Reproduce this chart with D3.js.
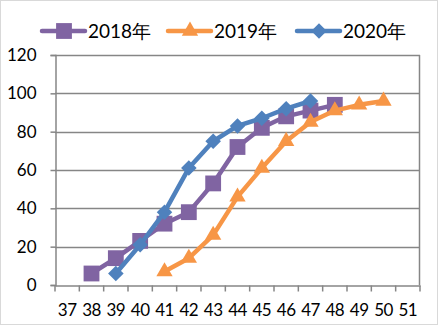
<!DOCTYPE html>
<html><head><meta charset="utf-8">
<script src="https://cdn.jsdelivr.net/npm/d3@7"></script>
<style>body{margin:0;background:#fff}svg{display:block}</style>
</head><body>
<script>
const categories = [37,38,39,40,41,42,43,44,45,46,47,48,49,50,51];
const yTicks = [0,20,40,60,80,100,120];
const seriesNames = ["2018年","2019年","2020年"];
const s2018 = [null,6,14,23,32,38,53,72,82,88,91,94,null,null,null];
const s2019 = [null,null,null,null,7,14,26,46,61,75,85,91,94,96,null];
const s2020 = [null,null,6,21,38,61,75,83,87,92,96,null,null,null,null];
const colors = ["#8064A2","#F79646","#4F81BD"];
const shapes = [d3.symbolSquare, d3.symbolTriangle, d3.symbolSquare];
const sizes = [250, 115, 121];
const rot = [0, 0, 45];

const W=441,H=327;
const svg=d3.select("body").append("svg").attr("width",W).attr("height",H);
svg.append("rect").attr("x",0.5).attr("y",0.5).attr("width",437).attr("height",324).attr("fill","#fff").attr("stroke","#d9d9d9");

const x=d3.scaleBand().domain(categories).range([55,420]).padding(0);
const y=d3.scaleLinear().domain([0,120]).range([285,55]);
const font="Lato, 'Open Sans', sans-serif";
const grid="#868686";

svg.append("g").selectAll("line").data(yTicks.filter(d=>d>0)).join("line")
 .attr("x1",55).attr("x2",420).attr("y1",d=>Math.round(y(d))+0.5).attr("y2",d=>Math.round(y(d))+0.5)
 .attr("stroke",grid).attr("stroke-width",1.5);
svg.append("line").attr("x1",419.5).attr("x2",419.5).attr("y1",y(120)).attr("y2",y(0)).attr("stroke",grid).attr("stroke-width",1.5);

const ya=svg.append("g").attr("transform","translate(55.5,0)")
 .call(d3.axisLeft(y).tickValues(yTicks).tickSize(5).tickPadding(14));
ya.select(".domain").attr("stroke",grid).attr("stroke-width",1.5);
ya.selectAll(".tick line").attr("stroke",grid).attr("stroke-width",1.5);
ya.selectAll("text").attr("font-family",font).attr("font-size",17).attr("fill","#000");

const xa=svg.append("g").attr("transform",`translate(0,${Math.round(y(0))+0.5})`)
 .call(d3.axisBottom(x).tickSize(0).tickPadding(18));
xa.select(".domain").attr("stroke",grid).attr("stroke-width",1.5);
xa.selectAll("text").attr("font-family",font).attr("font-size",17).attr("fill","#000").attr("letter-spacing",-0.5);
const bounds=categories.map(c=>x(c)).concat([420]);
xa.selectAll(".bt").data(bounds).join("line").attr("class","bt")
 .attr("x1",d=>d).attr("x2",d=>d).attr("y1",0).attr("y2",6).attr("stroke",grid).attr("stroke-width",1.5);

const all=[s2018,s2019,s2020];
const line=d3.line().defined(d=>d.v!=null).x(d=>x(d.c)+x.bandwidth()/2).y(d=>y(d.v));
all.forEach((s,i)=>{
  const pts=categories.map((c,j)=>({c,v:s[j]}));
  const g=svg.append("g");
  g.append("path").attr("d",line(pts)).attr("fill","none").attr("stroke",colors[i]).attr("stroke-width",4.5).attr("stroke-linejoin","round");
  g.selectAll("path.m").data(pts.filter(d=>d.v!=null)).join("path").attr("class","m")
   .attr("transform",d=>`translate(${x(d.c)+x.bandwidth()/2},${y(d.v)}) rotate(${rot[i]})`)
   .attr("d",d3.symbol().type(shapes[i]).size(sizes[i])).attr("fill",colors[i]);
});

const lx=[42,168,297];
seriesNames.forEach((n,i)=>{
  const g=svg.append("g").attr("transform",`translate(${lx[i]},31)`);
  g.append("line").attr("x1",0).attr("x2",43).attr("stroke",colors[i]).attr("stroke-width",4.5).attr("stroke-linecap","round");
  g.append("path").attr("transform",`translate(22,0) rotate(${rot[i]})`).attr("d",d3.symbol().type(shapes[i]).size(sizes[i])).attr("fill",colors[i]);
  g.append("text").attr("x",46).attr("y",7).attr("font-family",font).attr("font-size",19).attr("fill","#000").text(n);
});
</script>
</body></html>
